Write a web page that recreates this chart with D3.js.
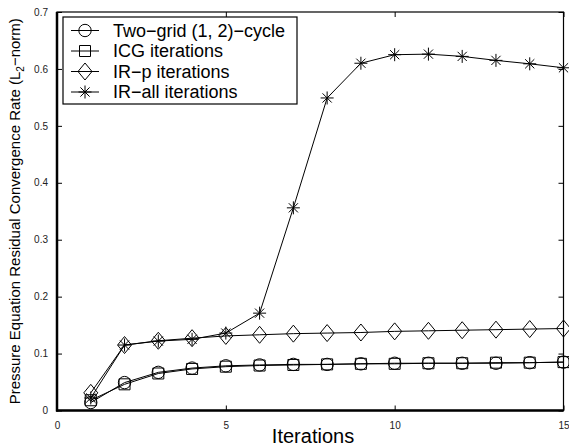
<!DOCTYPE html>
<html>
<head>
<meta charset="utf-8">
<script src="https://cdn.jsdelivr.net/npm/d3@7"></script>
<style>
  html, body { margin: 0; padding: 0; background: #fff; }
  svg { display: block; font-family: "Liberation Sans", Arial, Helvetica, sans-serif; }
</style>
</head>
<body>
<svg id="chart" width="569" height="448"></svg>
<script>
// Iteration index on the x axis
const iterations = [1, 2, 3, 4, 5, 6, 7, 8, 9, 10, 11, 12, 13, 14, 15];

// Residual convergence rate per iteration, one array per solver
const twoGrid = [0.014, 0.049, 0.067, 0.0745, 0.0785, 0.080, 0.081, 0.081, 0.082, 0.083, 0.083, 0.083, 0.083, 0.084, 0.085];
const icg     = [0.018, 0.046, 0.065, 0.073, 0.077, 0.079, 0.080, 0.081, 0.082, 0.082, 0.083, 0.083, 0.084, 0.084, 0.085];
const irP     = [0.031, 0.115, 0.1225, 0.127, 0.131, 0.133, 0.135, 0.136, 0.137, 0.139, 0.140, 0.141, 0.142, 0.143, 0.144];
const irAll   = [0.022, 0.115, 0.122, 0.125, 0.136, 0.171, 0.356, 0.549, 0.610, 0.625, 0.626, 0.622, 0.615, 0.609, 0.602];

const seriesNames = ["Two\u2212grid (1, 2)\u2212cycle", "ICG iterations", "IR\u2212p iterations", "IR\u2212all iterations"];
const seriesMarkers = ["circle", "square", "diamond", "star"];
const seriesValues = [twoGrid, icg, irP, irAll];

const xTicks = [0, 5, 10, 15];
const yTicks = [0, 0.1, 0.2, 0.3, 0.4, 0.5, 0.6, 0.7];

const svg = d3.select("#chart");
const pL = 57, pR = 563.5, pT = 12, pB = 410.5;

const x = d3.scaleLinear().domain([0, 15]).range([pL, pR]);
const y = d3.scaleLinear().domain([0, 0.7]).range([pB, pT]);

// Frame
svg.append("rect")
  .attr("x", pL).attr("y", pT)
  .attr("width", pR - pL).attr("height", pB - pT)
  .attr("fill", "none").attr("stroke", "#000").attr("stroke-width", 1.2);

const tickLen = 5;
// Inward ticks on all four sides
const gx = svg.append("g").attr("transform", `translate(0,${pB})`)
  .call(d3.axisBottom(x).tickValues(xTicks).tickSize(-tickLen).tickPadding(6 + tickLen).tickFormat(d3.format("d")));
const gy = svg.append("g").attr("transform", `translate(${pL},0)`)
  .call(d3.axisLeft(y).tickValues(yTicks).tickSize(-tickLen).tickPadding(4 + tickLen)
    .tickFormat(d => d === 0 ? "0" : d3.format(".1f")(d)));
const gxTop = svg.append("g").attr("transform", `translate(0,${pT})`)
  .call(d3.axisTop(x).tickValues(xTicks).tickSize(-tickLen).tickFormat(""));
const gyRight = svg.append("g").attr("transform", `translate(${pR},0)`)
  .call(d3.axisRight(y).tickValues(yTicks).tickSize(-tickLen).tickFormat(""));

[gx, gy, gxTop, gyRight].forEach(g => {
  g.select(".domain").remove();
  g.selectAll(".tick line").attr("stroke", "#000").attr("stroke-width", 1);
  g.selectAll(".tick text").attr("fill", "#222").style("font-size", "10px");
});

// Heavier left and bottom axis lines
svg.append("line").attr("x1", pL).attr("x2", pL).attr("y1", pT).attr("y2", pB + 1)
  .attr("stroke", "#000").attr("stroke-width", 2.5);
svg.append("line").attr("x1", pL - 1).attr("x2", pR).attr("y1", pB).attr("y2", pB)
  .attr("stroke", "#000").attr("stroke-width", 2.5);

// Marker shapes, unfilled
function markerPath(kind) {
  switch (kind) {
    case "circle": return d3.symbol(d3.symbolCircle, Math.PI * 6.2 * 6.2)();
    case "square": return "M-5.5,-5.5H5.5V5.5H-5.5Z";
    case "diamond": return "M0,-8.5L7,0L0,8.5L-7,0Z";
    case "star": return "M-6.5,0H6.5M0,-6.5V6.5M-4.6,-4.6L4.6,4.6M-4.6,4.6L4.6,-4.6";
  }
}

const line = d3.line().x((d, i) => x(iterations[i])).y(d => y(d));

seriesValues.forEach((vals, si) => {
  const g = svg.append("g");
  g.append("path").datum(vals).attr("d", line)
    .attr("fill", "none").attr("stroke", "#000").attr("stroke-width", 1);
  g.selectAll("path.m").data(vals).enter().append("path").attr("class", "m")
    .attr("transform", (d, i) => `translate(${x(iterations[i])},${y(d)})`)
    .attr("d", markerPath(seriesMarkers[si]))
    .attr("fill", "none").attr("stroke", "#000").attr("stroke-width", 1);
});

// Legend
const lg = svg.append("g");
lg.append("rect").attr("x", 63).attr("y", 17).attr("width", 234).attr("height", 87)
  .attr("fill", "#fff").attr("stroke", "#000").attr("stroke-width", 1.2);
const rowY = [30.5, 51, 71.5, 92];
seriesNames.forEach((name, i) => {
  lg.append("line").attr("x1", 71).attr("x2", 99).attr("y1", rowY[i]).attr("y2", rowY[i])
    .attr("stroke", "#000").attr("stroke-width", 1);
  lg.append("path").attr("transform", `translate(85,${rowY[i]})`)
    .attr("d", markerPath(seriesMarkers[i]))
    .attr("fill", "none").attr("stroke", "#000").attr("stroke-width", 1);
  lg.append("text").attr("x", 113).attr("y", rowY[i]).attr("dy", "0.36em")
    .style("font-size", "18px").attr("fill", "#000").text(name);
});

// Axis titles
svg.append("text").attr("x", 313).attr("y", 443)
  .attr("text-anchor", "middle").style("font-size", "20px").attr("fill", "#000").text("Iterations");

const yl = svg.append("text")
  .attr("transform", `translate(20,${(pT + pB) / 2}) rotate(-90)`)
  .attr("text-anchor", "middle").style("font-size", "15px").attr("fill", "#000");
yl.append("tspan").text("Pressure Equation Residual Convergence Rate (L");
yl.append("tspan").attr("dy", 3.5).style("font-size", "10px").text("2");
yl.append("tspan").attr("dy", -3.5).text("\u2212norm)");
</script>
</body>
</html>
